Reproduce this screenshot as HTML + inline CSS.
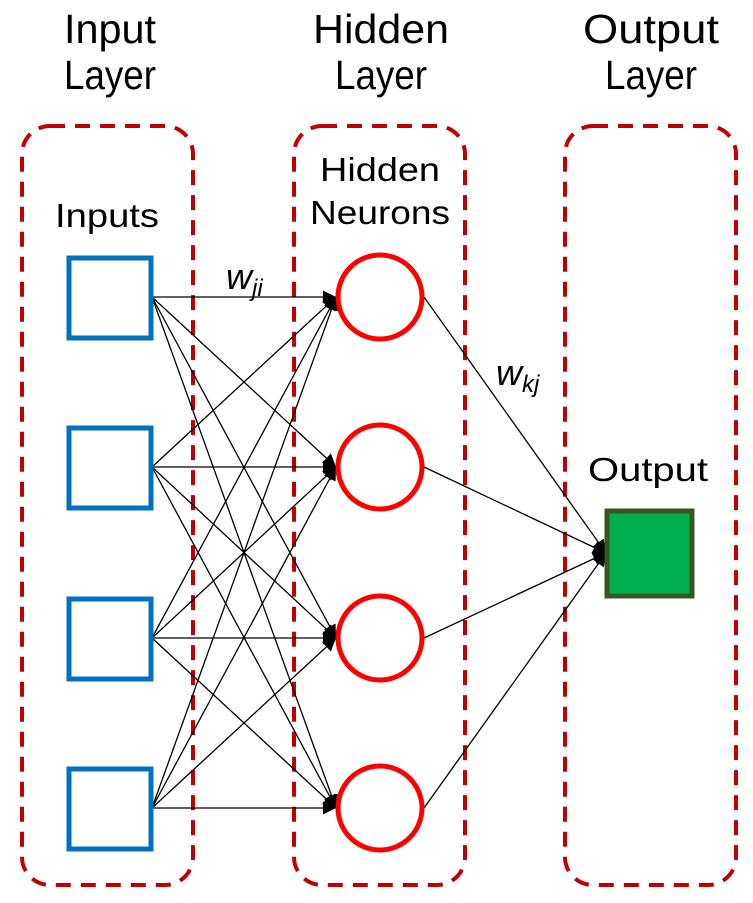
<!DOCTYPE html>
<html><head><meta charset="utf-8"><style>
html,body{margin:0;padding:0;background:#fff;}
svg{display:block;}
text{font-family:"Liberation Sans","Noto Sans CJK KR",sans-serif;fill:#000;}
</style></head><body>
<svg width="753" height="903" viewBox="0 0 753 903" xmlns="http://www.w3.org/2000/svg">
<defs>
<marker id="b" viewBox="0 0 10 10" refX="10" refY="5" markerWidth="17" markerHeight="13" orient="auto" markerUnits="userSpaceOnUse"><path d="M0,0 L10,5 L0,10 z" fill="#000"/></marker>
</defs>
<g font-size="41" text-anchor="middle">
<text x="110" y="43" textLength="92" lengthAdjust="spacingAndGlyphs">Input</text>
<text x="110" y="89" textLength="92" lengthAdjust="spacingAndGlyphs">Layer</text>
<text x="381" y="43" textLength="136" lengthAdjust="spacingAndGlyphs">Hidden</text>
<text x="381" y="89" textLength="92" lengthAdjust="spacingAndGlyphs">Layer</text>
<text x="651" y="43" textLength="136" lengthAdjust="spacingAndGlyphs">Output</text>
<text x="651" y="89" textLength="92" lengthAdjust="spacingAndGlyphs">Layer</text>
</g>
<g fill="none" stroke="#c00000" stroke-width="4" stroke-dasharray="15,10">
<rect x="22" y="126" width="171" height="759" rx="28"/>
<rect x="294" y="126" width="171" height="759" rx="28"/>
<rect x="565" y="126" width="171" height="759" rx="28"/>
</g>
<g font-size="33" text-anchor="middle">
<text x="107" y="227" textLength="104" lengthAdjust="spacingAndGlyphs">Inputs</text>
<text x="380" y="181" textLength="120" lengthAdjust="spacingAndGlyphs">Hidden</text>
<text x="380" y="224" textLength="140" lengthAdjust="spacingAndGlyphs">Neurons</text>
<text x="648" y="481" textLength="120" lengthAdjust="spacingAndGlyphs">Output</text>
</g>
<text x="226" y="289" font-size="36" font-style="italic">w<tspan font-size="24" dy="7">ji</tspan></text>
<text x="496" y="385" font-size="36" font-style="italic">w<tspan font-size="24" dy="7">kj</tspan></text>
<g stroke="#000" stroke-width="1.3" marker-end="url(#b)">
<line x1="152" y1="297" x2="336" y2="297"/><line x1="152" y1="297" x2="336" y2="467"/><line x1="152" y1="297" x2="336" y2="638"/><line x1="152" y1="297" x2="336" y2="808"/>
<line x1="152" y1="467" x2="336" y2="297"/><line x1="152" y1="467" x2="336" y2="467"/><line x1="152" y1="467" x2="336" y2="638"/><line x1="152" y1="467" x2="336" y2="808"/>
<line x1="152" y1="638" x2="336" y2="297"/><line x1="152" y1="638" x2="336" y2="467"/><line x1="152" y1="638" x2="336" y2="638"/><line x1="152" y1="638" x2="336" y2="808"/>
<line x1="152" y1="808" x2="336" y2="297"/><line x1="152" y1="808" x2="336" y2="467"/><line x1="152" y1="808" x2="336" y2="638"/><line x1="152" y1="808" x2="336" y2="808"/>
<line x1="424" y1="297" x2="606" y2="553"/><line x1="424" y1="467" x2="606" y2="553"/><line x1="424" y1="638" x2="606" y2="553"/><line x1="424" y1="808" x2="606" y2="553"/>
</g>
<g fill="#fff" stroke="#0070c0" stroke-width="5">
<rect x="69" y="258" width="82" height="80"/>
<rect x="69" y="428" width="82" height="80"/>
<rect x="69" y="599" width="82" height="80"/>
<rect x="69" y="769" width="82" height="80"/>
</g>
<g fill="#fff" stroke="#ff0000" stroke-width="5">
<circle cx="380" cy="297" r="42"/>
<circle cx="380" cy="467" r="42"/>
<circle cx="380" cy="638" r="42"/>
<circle cx="380" cy="808" r="42"/>
</g>
<rect x="607" y="511" width="85" height="85" fill="#00b050" stroke="#375623" stroke-width="5"/>
</svg>
</body></html>
